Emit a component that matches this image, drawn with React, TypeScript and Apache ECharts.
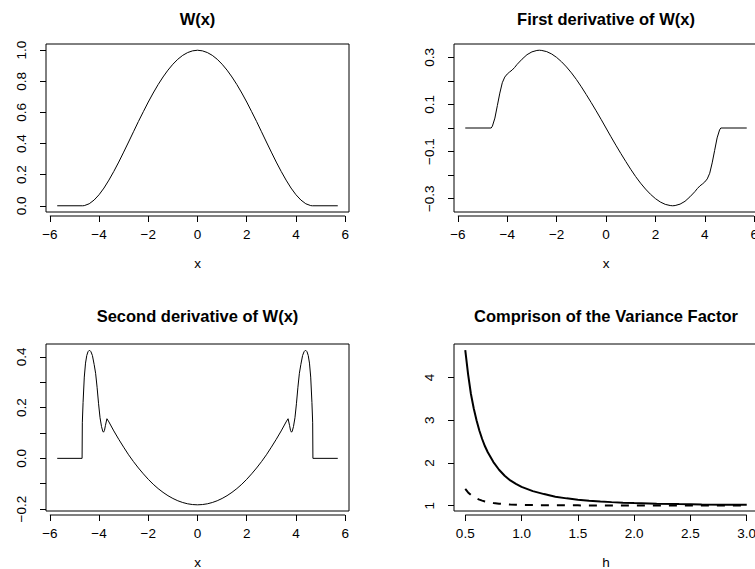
import React, { useEffect, useRef } from "react";
import * as echarts from "echarts";

// ---- Panel 1: W(x)
const wX = [-5.7, -4.67, -4.6, -4.4, -4.2, -4.0, -3.8, -3.6, -3.4, -3.2, -3.0, -2.8, -2.6, -2.4, -2.2, -2.0, -1.8, -1.6, -1.4, -1.2, -1.0, -0.8, -0.6, -0.4, -0.2, 0, 0.2, 0.4, 0.6, 0.8, 1.0, 1.2, 1.4, 1.6, 1.8, 2.0, 2.2, 2.4, 2.6, 2.8, 3.0, 3.2, 3.4, 3.6, 3.8, 4.0, 4.2, 4.4, 4.6, 4.67, 5.7];
const wY = [0, 0, 0.001, 0.013, 0.037, 0.071, 0.114, 0.165, 0.221, 0.281, 0.345, 0.41, 0.476, 0.542, 0.605, 0.667, 0.725, 0.779, 0.828, 0.872, 0.91, 0.942, 0.967, 0.985, 0.996, 1.0, 0.996, 0.985, 0.967, 0.942, 0.91, 0.872, 0.828, 0.779, 0.725, 0.667, 0.605, 0.542, 0.476, 0.41, 0.345, 0.281, 0.221, 0.165, 0.114, 0.071, 0.037, 0.013, 0.001, 0, 0];

// ---- Panel 2: first derivative
const d1X = [-5.7, -4.65, -4.6, -4.5, -4.4, -4.3, -4.2, -4.1, -4.0, -3.9, -3.8, -3.7, -3.6, -3.4, -3.2, -3.0, -2.8, -2.7, -2.6, -2.4, -2.2, -2.0, -1.8, -1.6, -1.4, -1.2, -1.0, -0.8, -0.6, -0.4, -0.2, 0, 0.2, 0.4, 0.6, 0.8, 1.0, 1.2, 1.4, 1.6, 1.8, 2.0, 2.2, 2.4, 2.6, 2.7, 2.8, 3.0, 3.2, 3.4, 3.6, 3.7, 3.8, 3.9, 4.0, 4.1, 4.2, 4.3, 4.4, 4.5, 4.6, 4.65, 5.7];
const d1Y = [0, 0, 0.008, 0.042, 0.095, 0.148, 0.192, 0.216, 0.229, 0.238, 0.246, 0.257, 0.27, 0.292, 0.311, 0.323, 0.329, 0.33, 0.329, 0.324, 0.314, 0.2995, 0.281, 0.259, 0.234, 0.206, 0.175, 0.142, 0.108, 0.073, 0.037, 0, -0.037, -0.073, -0.108, -0.142, -0.175, -0.206, -0.234, -0.259, -0.281, -0.2995, -0.314, -0.324, -0.329, -0.33, -0.329, -0.323, -0.311, -0.292, -0.27, -0.257, -0.246, -0.238, -0.229, -0.216, -0.192, -0.148, -0.095, -0.042, -0.008, 0, 0];

// ---- Panel 3: second derivative
const d2X = [-5.7, -4.69, -4.68, -4.65, -4.6, -4.55, -4.5, -4.45, -4.39, -4.33, -4.27, -4.2, -4.14, -4.08, -4.02, -3.96, -3.9, -3.85, -3.82, -3.78, -3.74, -3.68, -3.6, -3.4, -3.2, -3.0, -2.8, -2.6, -2.4, -2.2, -2.0, -1.8, -1.6, -1.4, -1.2, -1.0, -0.8, -0.6, -0.4, -0.2, 0, 0.2, 0.4, 0.6, 0.8, 1.0, 1.2, 1.4, 1.6, 1.8, 2.0, 2.2, 2.4, 2.6, 2.8, 3.0, 3.2, 3.4, 3.6, 3.68, 3.74, 3.78, 3.82, 3.85, 3.9, 3.96, 4.02, 4.08, 4.14, 4.2, 4.27, 4.33, 4.39, 4.45, 4.5, 4.55, 4.6, 4.65, 4.68, 4.69, 5.7];
const d2Y = [0, 0, 0.14, 0.22, 0.32, 0.375, 0.405, 0.42, 0.426, 0.42, 0.405, 0.37, 0.335, 0.28, 0.215, 0.16, 0.125, 0.107, 0.103, 0.11, 0.13, 0.156, 0.1435, 0.108, 0.075, 0.044, 0.014, -0.013, -0.038, -0.061, -0.0825, -0.102, -0.119, -0.134, -0.147, -0.158, -0.167, -0.174, -0.179, -0.182, -0.183, -0.182, -0.179, -0.174, -0.167, -0.158, -0.147, -0.134, -0.119, -0.102, -0.0825, -0.061, -0.038, -0.013, 0.014, 0.044, 0.075, 0.108, 0.1435, 0.156, 0.13, 0.11, 0.103, 0.107, 0.125, 0.16, 0.215, 0.28, 0.335, 0.37, 0.405, 0.42, 0.426, 0.42, 0.405, 0.375, 0.32, 0.22, 0.14, 0, 0];

// ---- Panel 4: variance factor
const hX = [0.5, 0.525, 0.55, 0.575, 0.6, 0.625, 0.65, 0.675, 0.7, 0.75, 0.8, 0.85, 0.9, 0.95, 1.0, 1.1, 1.2, 1.3, 1.4, 1.5, 1.6, 1.7, 1.8, 1.9, 2.0, 2.2, 2.4, 2.6, 2.8, 3.0];
const varSolid = [4.64, 4.08, 3.62, 3.28, 3.0, 2.76, 2.56, 2.39, 2.25, 2.02, 1.84, 1.7, 1.59, 1.51, 1.44, 1.34, 1.27, 1.21, 1.17, 1.14, 1.115, 1.097, 1.082, 1.07, 1.06, 1.046, 1.036, 1.028, 1.023, 1.019];
const varDashed = [1.39, 1.31, 1.25, 1.205, 1.17, 1.14, 1.117, 1.098, 1.083, 1.06, 1.045, 1.034, 1.026, 1.02, 1.016, 1.012, 1.01, 1.008, 1.007, 1.006, 1.005, 1.005, 1.004, 1.004, 1.004, 1.003, 1.003, 1.003, 1.003, 1.003];

// ---- ticks and labels
const xTicksW = [-6, -4, -2, 0, 2, 4, 6];
const xTicksH = [0.5, 1.0, 1.5, 2.0, 2.5, 3.0];
const yTicks1 = [0, 0.2, 0.4, 0.6, 0.8, 1.0];
const yTicks2 = [-0.3, -0.2, -0.1, 0, 0.1, 0.2, 0.3];
const yLabels2 = [-0.3, -0.1, 0.1, 0.3];
const yTicks3 = [-0.2, -0.1, 0, 0.1, 0.2, 0.3, 0.4];
const yLabels3 = [-0.2, 0, 0.2, 0.4];
const yTicks4 = [1, 2, 3, 4];
const titles = ["W(x)", "First derivative of W(x)", "Second derivative of W(x)", "Comprison of the Variance Factor"];
const xNames = ["x", "x", "x", "h"];

const FONT = "'Liberation Sans', Arial, Helvetica, sans-serif";
const AX_OFF = 4;
const panels = [
  { left: 46, top: 44, width: 303, height: 168, cx: 197.5, ty: 10 },
  { left: 454, top: 44, width: 304, height: 168, cx: 606, ty: 10 },
  { left: 46, top: 344, width: 303, height: 167, cx: 197.5, ty: 307 },
  { left: 454, top: 344, width: 304, height: 167, cx: 606, ty: 307 },
];

const pad = (arr: number[]) => {
  const lo = Math.min(...arr);
  const hi = Math.max(...arr);
  const d = (hi - lo) * 0.04;
  return [lo - d, hi + d];
};
const minus = (s: string) => s.replace("-", "\u2212");
const f1 = (v: number) => minus(v.toFixed(1));
const f0 = (v: number) => minus(String(Math.round(v)));

export default function App() {
  const ref = useRef<HTMLDivElement>(null);
  useEffect(() => {
    if (!ref.current) return;
    const chart = echarts.init(ref.current, null, { renderer: "svg" });
    const xr = [pad(wX), pad(d1X), pad(d2X), pad(hX)];
    const yr = [pad(wY), pad(d1Y), pad(d2Y), pad(varSolid)];
    const xt = [xTicksW, xTicksW, xTicksW, xTicksH];
    const yt = [yTicks1, yTicks2, yTicks3, yTicks4];
    const yl = [yTicks1, yLabels2, yLabels3, yTicks4];
    const xf = [f0, f0, f0, f1];
    const yf = [f1, f1, f1, f0];
    const txt = { color: "#000", fontFamily: FONT, fontSize: 13.5 };

    const option: any = {
      animation: false,
      backgroundColor: "#fff",
      title: panels.map((p, i) => ({
        text: titles[i],
        left: p.cx,
        top: p.ty,
        textAlign: "center",
        padding: 0,
        textStyle: { color: "#000", fontFamily: FONT, fontSize: 16.5, fontWeight: "bold" },
      })),
      grid: panels.map((p) => ({
        left: p.left,
        top: p.top,
        width: p.width,
        height: p.height,
        show: true,
        borderColor: "#000",
        borderWidth: 1,
        backgroundColor: "transparent",
        containLabel: false,
        outerBoundsMode: "none",
      })),
      xAxis: panels.map((p, i) => ({
        type: "value",
        gridIndex: i,
        min: xr[i][0],
        max: xr[i][1],
        offset: AX_OFF,
        axisLine: { show: false, onZero: false },
        splitLine: { show: false },
        axisTick: { show: true, length: 6, lineStyle: { color: "#000" }, customValues: xt[i] },
        axisLabel: { ...txt, margin: 11, customValues: xt[i], formatter: (v: number) => xf[i](v) },
        name: xNames[i],
        nameLocation: "middle",
        nameGap: 40,
        nameTextStyle: txt,
      })),
      yAxis: panels.map((p, i) => ({
        type: "value",
        gridIndex: i,
        min: yr[i][0],
        max: yr[i][1],
        axisLine: { show: false, onZero: false },
        splitLine: { show: false },
        axisTick: { show: true, length: 6, lineStyle: { color: "#000" }, customValues: yt[i] },
        axisLabel: { ...txt, rotate: 90, margin: 18, customValues: yl[i], formatter: (v: number) => yf[i](v) },
      })),
      series: [
        { type: "line", xAxisIndex: 0, yAxisIndex: 0, data: wX.map((x, k) => [x, wY[k]]), showSymbol: false, lineStyle: { color: "#000", width: 1 } },
        { type: "line", xAxisIndex: 1, yAxisIndex: 1, data: d1X.map((x, k) => [x, d1Y[k]]), showSymbol: false, lineStyle: { color: "#000", width: 1 } },
        { type: "line", xAxisIndex: 2, yAxisIndex: 2, data: d2X.map((x, k) => [x, d2Y[k]]), showSymbol: false, lineStyle: { color: "#000", width: 1 } },
        { type: "line", xAxisIndex: 3, yAxisIndex: 3, data: hX.map((x, k) => [x, varSolid[k]]), showSymbol: false, lineStyle: { color: "#000", width: 2 } },
        { type: "line", xAxisIndex: 3, yAxisIndex: 3, data: hX.map((x, k) => [x, varDashed[k]]), showSymbol: false, lineStyle: { color: "#000", width: 2, type: [8, 8] } },
      ],
    };
    chart.setOption(option);

    const lines = panels.map((p, i) => {
      const a = chart.convertToPixel({ gridIndex: i } as any, [xt[i][0], yr[i][0]]) as number[];
      const b = chart.convertToPixel({ gridIndex: i } as any, [xt[i][xt[i].length - 1], yr[i][0]]) as number[];
      const y = p.top + p.height + AX_OFF;
      return {
        type: "line",
        silent: true,
        shape: { x1: a[0], y1: y, x2: b[0], y2: y },
        style: { stroke: "#000", lineWidth: 1 },
      };
    });
    chart.setOption({ graphic: lines });
    return () => chart.dispose();
  }, []);
  return (
    <div
      ref={ref}
      style={{ position: "absolute", left: 0, top: 0, width: 755, height: 569, background: "#fff" }}
    />
  );
}
